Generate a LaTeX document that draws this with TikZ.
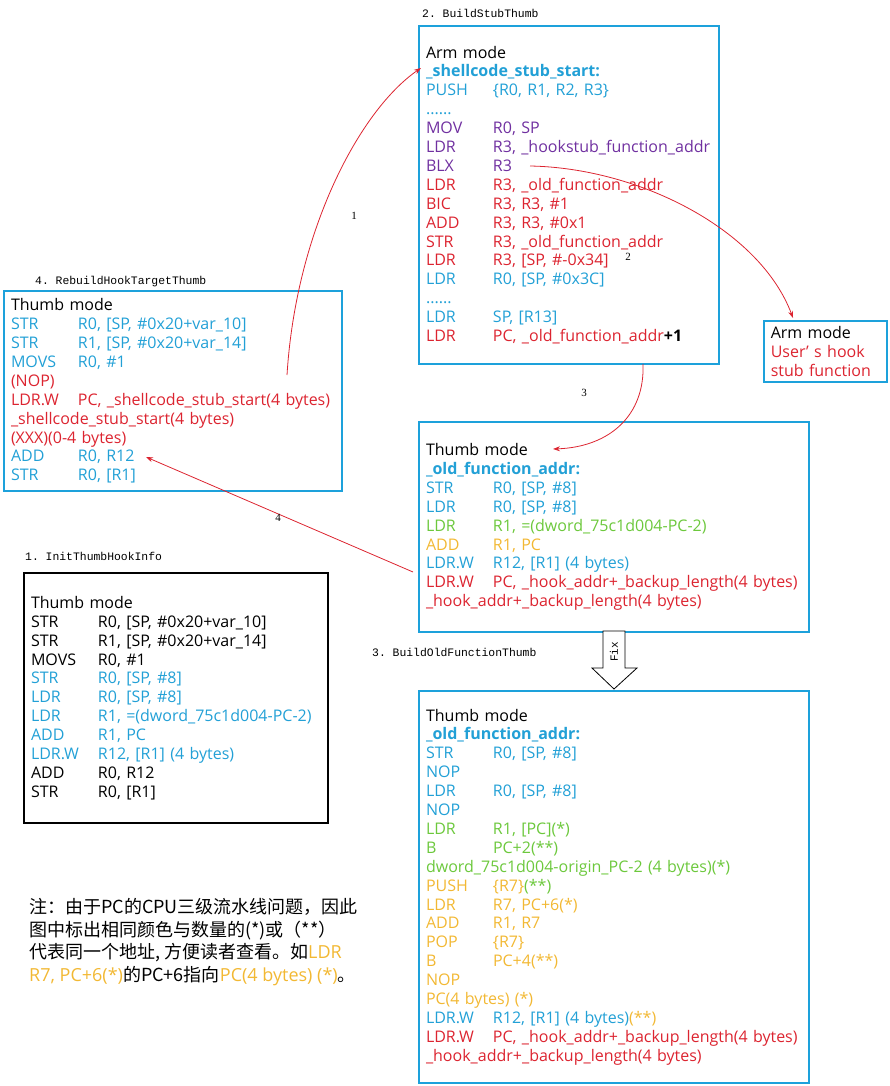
\documentclass[tikz,border=0pt]{standalone}
\usepackage{fontspec}
\setmainfont{Open Sans}
\setmonofont{Liberation Mono}
\newfontfamily\cjk{Noto Sans CJK SC}
\newfontfamily\numfont{Liberation Serif}
\usepackage{tikz}
\usetikzlibrary{arrows.meta,positioning}
\definecolor{boxblue}{HTML}{1DA1DB}
\definecolor{cblue}{HTML}{22A0D6}
\definecolor{cred}{HTML}{DC2430}
\definecolor{cpurple}{HTML}{7030A0}
\definecolor{cgreen}{HTML}{6CC83C}
\definecolor{corange}{HTML}{F2B833}

% mnemonic column + operands
\newcommand{\insn}[2]{\makebox[67pt][l]{#1}#2}

\begin{document}
\begin{tikzpicture}[
  x=1pt, y=-1pt,
  codebox/.style={
    rectangle,
    draw=boxblue,
    line width=2pt,
    align=left,
    anchor=north west,
    inner xsep=7pt,
    inner ysep=0pt,
    font=\fontsize{16}{18.9}\selectfont
  },
  title/.style={
    inner sep=0pt,
    font=\ttfamily\fontsize{11.4}{13}\selectfont
  },
  steplabel/.style={inner sep=0pt, font=\numfont\fontsize{11}{12}\selectfont},
  hook/.style={-{Stealth[length=7pt,width=5pt]}, line width=0.8pt, draw=cred}
]
\useasboundingbox (0,0) rectangle (890,1086);

% 2. stub
\node[codebox, text width=286pt, minimum height=338pt] (stub) at (418,25) {
  Arm mode\\
  \textcolor{cblue}{\bfseries \_shellcode\_stub\_start:}\\
  \textcolor{cblue}{\insn{PUSH}{\{R0, R1, R2, R3\}}}\\
  \textcolor{cblue}{......}\\
  \textcolor{cpurple}{\insn{MOV}{R0, SP}}\\
  \textcolor{cpurple}{\insn{LDR}{R3, \_hookstub\_function\_addr}}\\
  \textcolor{cpurple}{\insn{BLX}{R3}}\\
  \textcolor{cred}{\insn{LDR}{R3, \_old\_function\_addr}}\\
  \textcolor{cred}{\insn{BIC}{R3, R3, \#1}}\\
  \textcolor{cred}{\insn{ADD}{R3, R3, \#0x1}}\\
  \textcolor{cred}{\insn{STR}{R3, \_old\_function\_addr}}\\
  \textcolor{cred}{\insn{LDR}{R3, [SP, \#-0x34]}}\\
  \textcolor{cblue}{\insn{LDR}{R0, [SP, \#0x3C]}}\\
  \textcolor{cblue}{......}\\
  \textcolor{cblue}{\insn{LDR}{SP, [R13]}}\\
  \textcolor{cred}{\insn{LDR}{PC, \_old\_function\_addr}}\textbf{+1}
};
\node[title, above right=7pt and 4pt of stub.north west] (stubtitle) {2. BuildStubThumb};

% user hook
\node[codebox, line width=1.5pt, text width=109pt, minimum height=61pt] (userhook) at (763,320) {
  Arm mode\\
  \textcolor{cred}{User’ s hook}\\
  \textcolor{cred}{stub function}
};

% 4. rebuilt target
\node[codebox, text width=324pt, minimum height=200pt] (target) at (3,290) {
  Thumb mode\\
  \textcolor{cblue}{\insn{STR}{R0, [SP, \#0x20+var\_10]}}\\
  \textcolor{cblue}{\insn{STR}{R1, [SP, \#0x20+var\_14]}}\\
  \textcolor{cblue}{\insn{MOVS}{R0, \#1}}\\
  \textcolor{cred}{(NOP)}\\
  \textcolor{cred}{\insn{LDR.W}{PC, \_shellcode\_stub\_start(4 bytes)}}\\
  \textcolor{cred}{\_shellcode\_stub\_start(4 bytes)}\\
  \textcolor{cred}{(XXX)(0-4 bytes)}\\
  \textcolor{cblue}{\insn{ADD}{R0, R12}}\\
  \textcolor{cblue}{\insn{STR}{R0, [R1]}}
};
\node[title, above right=3pt and 32pt of target.north west] (targettitle) {4. RebuildHookTargetThumb};

% 3. old function, before fix
\node[codebox, text width=376pt, minimum height=210pt] (oldfunc) at (418,421) {
  Thumb mode\\
  \textcolor{cblue}{\bfseries \_old\_function\_addr:}\\
  \textcolor{cblue}{\insn{STR}{R0, [SP, \#8]}}\\
  \textcolor{cblue}{\insn{LDR}{R0, [SP, \#8]}}\\
  \textcolor{cgreen}{\insn{LDR}{R1, =(dword\_75c1d004-PC-2)}}\\
  \textcolor{corange}{\insn{ADD}{R1, PC}}\\
  \textcolor{cblue}{\insn{LDR.W}{R12, [R1] (4 bytes)}}\\
  \textcolor{cred}{\insn{LDR.W}{PC, \_hook\_addr+\_backup\_length(4 bytes)}}\\
  \textcolor{cred}{\_hook\_addr+\_backup\_length(4 bytes)}
};

% 3. old function, fixed
\node[codebox, text width=376pt, minimum height=392pt] (oldfix) at (418,690) {
  Thumb mode\\
  \textcolor{cblue}{\bfseries \_old\_function\_addr:}\\
  \textcolor{cblue}{\insn{STR}{R0, [SP, \#8]}}\\
  \textcolor{cblue}{NOP}\\
  \textcolor{cblue}{\insn{LDR}{R0, [SP, \#8]}}\\
  \textcolor{cblue}{NOP}\\
  \textcolor{cgreen}{\insn{LDR}{R1, [PC](*)}}\\
  \textcolor{cgreen}{\insn{B}{PC+2(**)}}\\
  \textcolor{cgreen}{dword\_75c1d004-origin\_PC-2 (4 bytes)(*)}\\
  \textcolor{corange}{\insn{PUSH}{\{R7\}}}\textcolor{cgreen}{(**)}\\
  \textcolor{corange}{\insn{LDR}{R7, PC+6(*)}}\\
  \textcolor{corange}{\insn{ADD}{R1, R7}}\\
  \textcolor{corange}{\insn{POP}{\{R7\}}}\\
  \textcolor{corange}{\insn{B}{PC+4(**)}}\\
  \textcolor{corange}{NOP}\\
  \textcolor{corange}{PC(4 bytes) (*)}\\
  \textcolor{cblue}{\insn{LDR.W}{R12, [R1] (4 bytes)}}\textcolor{corange}{(**)}\\
  \textcolor{cred}{\insn{LDR.W}{PC, \_hook\_addr+\_backup\_length(4 bytes)}}\\
  \textcolor{cred}{\_hook\_addr+\_backup\_length(4 bytes)}
};
\node[title, above right=33pt and -46pt of oldfix.north west] (oldtitle) {3. BuildOldFunctionThumb};

% 1. original
\node[codebox, draw=black, text width=290pt, minimum height=250pt] (init) at (23,572) {
  Thumb mode\\
  \insn{STR}{R0, [SP, \#0x20+var\_10]}\\
  \insn{STR}{R1, [SP, \#0x20+var\_14]}\\
  \insn{MOVS}{R0, \#1}\\
  \textcolor{cblue}{\insn{STR}{R0, [SP, \#8]}}\\
  \textcolor{cblue}{\insn{LDR}{R0, [SP, \#8]}}\\
  \textcolor{cblue}{\insn{LDR}{R1, =(dword\_75c1d004-PC-2)}}\\
  \textcolor{cblue}{\insn{ADD}{R1, PC}}\\
  \textcolor{cblue}{\insn{LDR.W}{R12, [R1] (4 bytes)}}\\
  \insn{ADD}{R0, R12}\\
  \insn{STR}{R0, [R1]}
};
\node[title, above right=11pt and 2pt of init.north west] (inittitle) {1. InitThumbHookInfo};

% fix arrow
\draw[line width=0.8pt, fill=white] (603,631) -- (625,631) -- (625,668) -- (637,668)
  -- (614,689) -- (592,668) -- (603,668) -- cycle;
\node[rotate=90, inner sep=0pt, font=\ttfamily\fontsize{11}{12}\selectfont] (fixlabel) at (614,652) {Fix};

% note
\node[anchor=north west, align=left, inner sep=0pt,
  font=\cjk\fontsize{18}{22.7}\selectfont] (note) at (29,898) {
  注：由于PC的CPU三级流水线问题，因此\\
  图中标出相同颜色与数量的(*)或（**）\\
  代表同一个地址, 方便读者查看。如\textcolor{corange}{\normalfont LDR}\\
  \textcolor{corange}{\normalfont R7, PC+6(*)}的PC+6指向\textcolor{corange}{\normalfont PC(4 bytes) (*)}。
};

% flow
\coordinate (ldrpc) at (287,375);
\coordinate (stubentry) at (421,68);
\coordinate (blxcall) at (530,166);
\coordinate (hookentry) at (793,318);
\coordinate (stubexit) at (643,364);
\coordinate (oldentry) at (553,449);
\coordinate (jumpback) at (413,572);
\coordinate (resume) at (146,457);

\draw[hook] (ldrpc) .. controls (296,230) and (360,110) .. (stubentry);
\draw[hook] (blxcall) .. controls (640,168) and (760,230) .. (hookentry);
\draw[hook] (stubexit) .. controls (645,415) and (610,447) .. (oldentry);
\draw[hook] (jumpback) -- (resume);

\node[steplabel] (n1) at (354,216) {1};
\node[steplabel] (n2) at (628,257) {2};
\node[steplabel] (n3) at (584,393) {3};
\node[steplabel] (n4) at (278,518) {4};

\end{tikzpicture}
\end{document}
